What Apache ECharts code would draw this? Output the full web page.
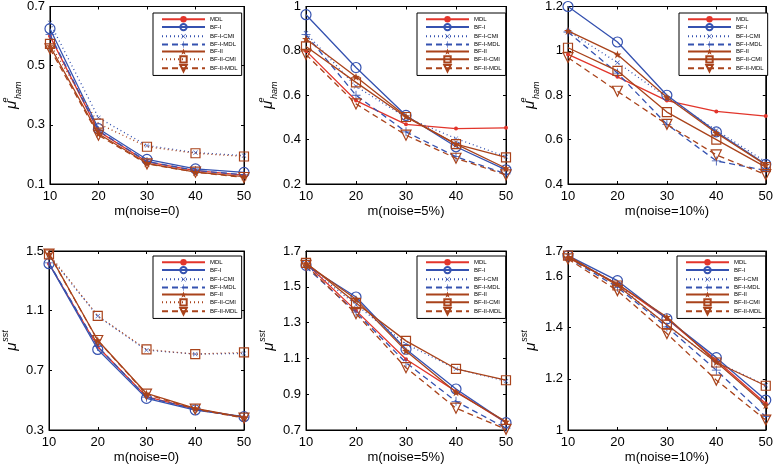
<!DOCTYPE html>
<html>
<head>
<meta charset="utf-8">
<script src="https://cdn.jsdelivr.net/npm/echarts@6/dist/echarts.min.js"></script>
<style>html,body{margin:0;padding:0;background:#fff}#c{width:776px;height:466px}</style>
</head>
<body>
<div id="c"></div>
<script>
// ---- data ----
const xValues = [10, 20, 30, 40, 50];
const seriesNames = ['MDL', 'BF-I', 'BF-I-CMI', 'BF-I-MDL', 'BF-II', 'BF-II-CMI', 'BF-II-MDL'];
const xNames = ['m(noise=0)', 'm(noise=5%)', 'm(noise=10%)'];

// rows in order of seriesNames
const hamNoise0 = [
  [0.600, 0.278, 0.175, 0.145, 0.130],
  [0.625, 0.287, 0.183, 0.151, 0.139],
  [0.645, 0.324, 0.230, 0.206, 0.196],
  [0.605, 0.280, 0.176, 0.146, 0.131],
  [0.566, 0.270, 0.170, 0.140, 0.125],
  [0.574, 0.304, 0.226, 0.204, 0.193],
  [0.557, 0.265, 0.168, 0.140, 0.122]
];
const hamNoise5 = [
  [0.800, 0.576, 0.469, 0.450, 0.453],
  [0.963, 0.725, 0.509, 0.368, 0.264],
  [0.880, 0.640, 0.500, 0.405, 0.323],
  [0.873, 0.600, 0.435, 0.323, 0.246],
  [0.854, 0.683, 0.505, 0.380, 0.271],
  [0.820, 0.658, 0.502, 0.380, 0.320],
  [0.784, 0.561, 0.420, 0.316, 0.241]
];
const hamNoise10 = [
  [0.984, 0.883, 0.776, 0.727, 0.706],
  [1.200, 1.040, 0.800, 0.635, 0.489],
  [1.090, 0.947, 0.790, 0.642, 0.500],
  [1.085, 0.900, 0.669, 0.504, 0.461],
  [1.090, 0.984, 0.791, 0.630, 0.486],
  [1.014, 0.910, 0.724, 0.600, 0.476],
  [0.970, 0.818, 0.669, 0.531, 0.442]
];
const sstNoise0 = [
  [1.415, 0.858, 0.523, 0.440, 0.385],
  [1.415, 0.840, 0.512, 0.434, 0.389],
  [1.470, 1.063, 0.835, 0.809, 0.813],
  [1.420, 0.860, 0.520, 0.440, 0.385],
  [1.482, 0.902, 0.545, 0.445, 0.385],
  [1.478, 1.065, 0.840, 0.809, 0.820],
  [1.480, 0.900, 0.540, 0.440, 0.380]
];
const sstNoise5 = [
  [1.630, 1.367, 1.095, 0.916, 0.741],
  [1.620, 1.443, 1.151, 0.929, 0.741],
  [1.620, 1.400, 1.180, 1.042, 0.973],
  [1.610, 1.358, 1.076, 0.860, 0.710],
  [1.630, 1.430, 1.142, 0.911, 0.747],
  [1.634, 1.410, 1.198, 1.042, 0.978],
  [1.620, 1.350, 1.048, 0.822, 0.704]
];
const sstNoise10 = [
  [1.675, 1.571, 1.435, 1.273, 1.104],
  [1.682, 1.584, 1.435, 1.283, 1.117],
  [1.680, 1.570, 1.409, 1.266, 1.175],
  [1.675, 1.558, 1.403, 1.234, 1.052],
  [1.675, 1.571, 1.442, 1.266, 1.097],
  [1.682, 1.565, 1.412, 1.264, 1.173],
  [1.669, 1.545, 1.377, 1.195, 1.039]
];
// y-axis ranges per panel: [min, max, interval]
const yRanges = [
  [0.1, 0.7, 0.2], [0.2, 1.0, 0.2], [0.4, 1.2, 0.2],
  [0.3, 1.5, 0.4], [0.7, 1.7, 0.2], [1.0, 1.7, 0.2]
];

// ---- styling ----
const RED = '#e2352b', BLUE = '#3552b0', BROWN = '#a9431b';
const FONT = 'Liberation Sans';
const grids = [
  {left: 44, top: 5}, {left: 306, top: 5}, {left: 568, top: 5},
  {left: 44, top: 251}, {left: 306, top: 251}, {left: 568, top: 251}
];
const legendPos = [
  {left: 153, top: 13}, {left: 417, top: 13}, {left: 679, top: 13},
  {left: 153, top: 256}, {left: 417, top: 256}, {left: 677, top: 256}
];
const STAR = 'path://M0,-10L2.35,-3.24L9.51,-3.09L3.8,1.24L5.88,8.09L0,4L-5.88,8.09L-3.8,1.24L-9.51,-3.09L-2.35,-3.24Z';
const PLUS = 'path://M-0.9,-10H0.9V-0.9H10V0.9H0.9V10H-0.9V0.9H-10V-0.9H-0.9Z';
const DOT = [1, 3], DASH = [6, 4];

function seriesStyle(i, panel) {
  const cmiSolid = !(panel === 0 || panel === 3);
  switch (i) {
    case 0: return {color: RED, type: 'solid', symbol: 'circle', size: 4, fill: RED};
    case 1: return {color: BLUE, type: 'solid', symbol: 'circle', size: 10, fill: 'rgba(0,0,0,0)'};
    case 2: return {color: BLUE, type: DOT, symbol: PLUS, size: 6, fill: BLUE, rot: 45};
    case 3: return {color: BLUE, type: DASH, symbol: PLUS, size: 9, fill: BLUE};
    case 4: return {color: BROWN, type: 'solid', symbol: STAR, size: 8, fill: BROWN};
    case 5: return {color: BROWN, type: cmiSolid ? 'solid' : DOT, symbol: 'rect', size: 9, fill: 'rgba(0,0,0,0)'};
    case 6: return {color: BROWN, type: DASH, symbol: 'triangle', size: 10, fill: 'rgba(0,0,0,0)', rot: 180};
  }
}

const panels = [hamNoise0, hamNoise5, hamNoise10, sstNoise0, sstNoise5, sstNoise10];
const hamName = '{mu|μ}{sup|e}{sub|ham}';
const sstName = '{mu|μ}{sup2|sst}';
const nameRich = {
  mu: {fontSize: 15, fontFamily: FONT, fontStyle: 'italic', color: '#000', lineHeight: 22, verticalAlign: 'middle'},
  sup: {fontSize: 9, fontFamily: FONT, fontStyle: 'italic', color: '#000', width: 0, align: 'left', verticalAlign: 'top', padding: [0, 0, 0, 1]},
  sub: {fontSize: 9, fontFamily: FONT, fontStyle: 'italic', color: '#000', verticalAlign: 'bottom', padding: [0, 0, 0, 1]},
  sup2: {fontSize: 9, fontFamily: FONT, fontStyle: 'italic', color: '#000', verticalAlign: 'top', padding: [0, 0, 0, 1]}
};

const option = {
  animation: false,
  backgroundColor: '#fff',
  textStyle: {fontFamily: FONT},
  grid: [], xAxis: [], yAxis: [], legend: [], series: []
};

panels.forEach((rows, p) => {
  const [ymin, ymax, yint] = yRanges[p];
  option.grid.push(Object.assign({width: 200, height: 179, show: true, borderColor: '#000', borderWidth: 1, backgroundColor: 'transparent'}, grids[p]));
  const tick = {show: true, inside: true, length: 3, lineStyle: {color: '#000'}};
  option.xAxis.push({
    type: 'value', gridIndex: p, min: 10, max: 50, interval: 10,
    name: xNames[p % 3], nameLocation: 'middle', nameGap: 21,
    nameTextStyle: {fontSize: 13, color: '#000', fontFamily: FONT},
    axisLine: {show: true, lineStyle: {color: '#000', width: 1}},
    axisTick: tick, splitLine: {show: false},
    axisLabel: {fontSize: 13, color: '#000', margin: 6, fontFamily: FONT}
  });
  option.xAxis.push({
    type: 'value', gridIndex: p, min: 10, max: 50, interval: 10, position: 'top',
    axisLine: {show: true, lineStyle: {color: '#000'}}, axisTick: tick,
    axisLabel: {show: false}, splitLine: {show: false}
  });
  option.yAxis.push({
    type: 'value', gridIndex: p, min: ymin, max: ymax, interval: yint,
    name: p < 3 ? hamName : sstName, nameLocation: 'middle', nameGap: 26, nameRotate: 90,
    nameTextStyle: {rich: nameRich},
    axisLine: {show: true, lineStyle: {color: '#000', width: 1}},
    axisTick: tick, splitLine: {show: false},
    axisLabel: {fontSize: 13, color: '#000', margin: 5, fontFamily: FONT,
      formatter: v => String(Math.round(v * 10) / 10)}
  });
  option.yAxis.push({
    type: 'value', gridIndex: p, min: ymin, max: ymax, interval: yint, position: 'right',
    axisLine: {show: true, lineStyle: {color: '#000'}}, axisTick: tick,
    axisLabel: {show: false}, splitLine: {show: false}
  });
  const names = [];
  rows.forEach((vals, i) => {
    const st = seriesStyle(i, p);
    const sname = seriesNames[i] + (p ? '#' + p : '');
    names.push(sname);
    option.series.push({
      type: 'line', name: sname, xAxisIndex: 2 * p, yAxisIndex: 2 * p,
      data: xValues.map((x, k) => [x, vals[k]]),
      color: st.color,
      symbol: st.symbol, symbolSize: st.size, symbolRotate: st.rot || 0, showSymbol: true,
      lineStyle: {color: st.color, width: 1.3, type: st.type},
      itemStyle: {color: st.fill, borderColor: st.color, borderWidth: (st.fill === st.color) ? 0 : 1.2},
      emphasis: {disabled: true}, z: 2 + i
    });
  });
  option.legend.push(Object.assign({
    orient: 'vertical', data: names, selectedMode: false,
    itemWidth: 43, itemHeight: 8, itemGap: 0.5,
    padding: [3, 4, 3, 8], borderColor: '#000', borderWidth: 1, backgroundColor: '#fff',
    formatter: n => n.split('#')[0],
    textStyle: {fontSize: 6, color: '#000', fontFamily: FONT, padding: [0, 0, 0, 0]}
  }, legendPos[p]));
});

const chart = echarts.init(document.getElementById('c'), null, {renderer: 'canvas'});
chart.setOption(option);
</script>
</body>
</html>
